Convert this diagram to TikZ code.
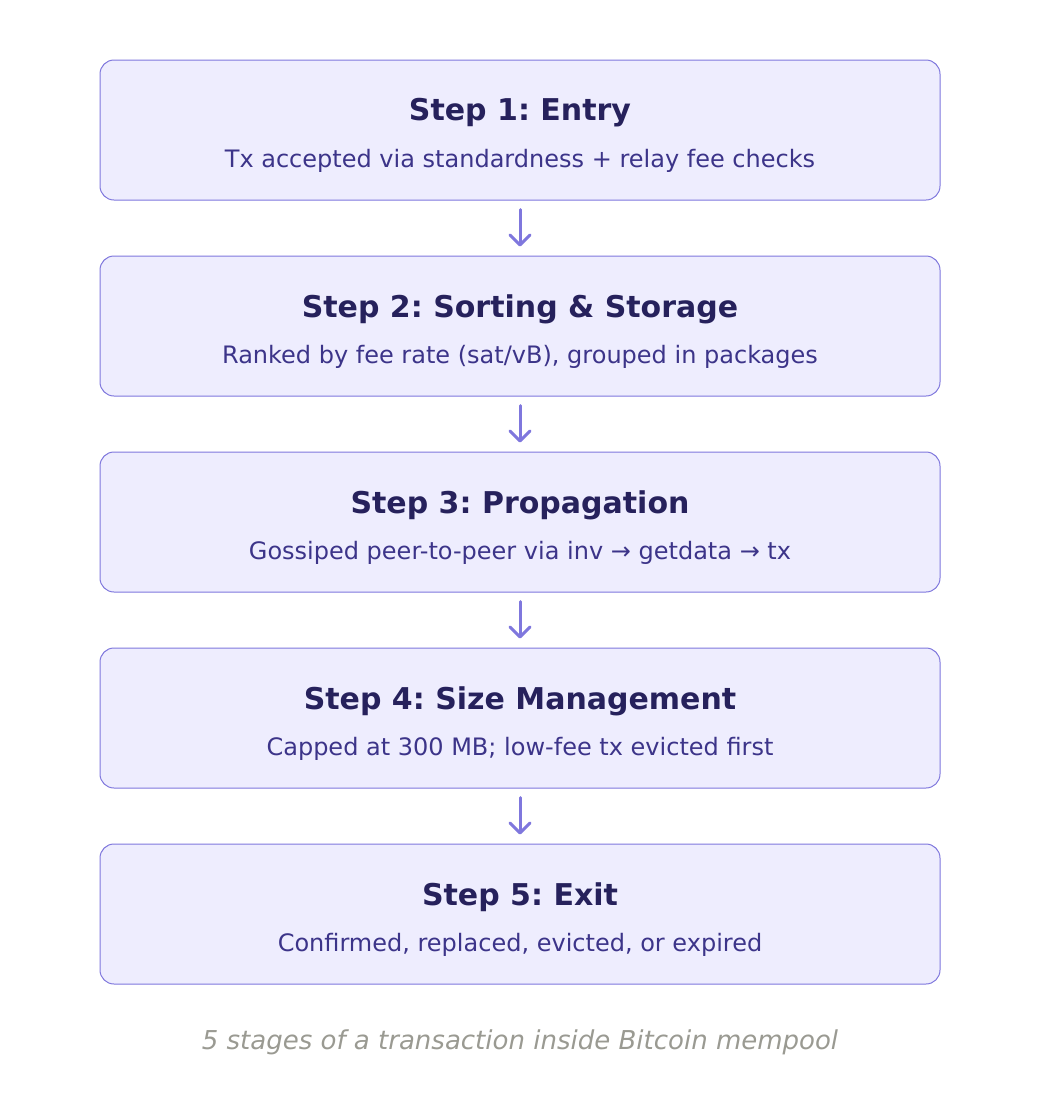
\documentclass[tikz,border=0pt]{standalone}
\usepackage{fontspec}
\setmainfont{DejaVu Sans}
\usetikzlibrary{arrows.meta}
\definecolor{boxfill}{HTML}{EEEDFE}
\definecolor{boxline}{HTML}{7F77DD}
\definecolor{titlecol}{HTML}{26215C}
\definecolor{subcol}{HTML}{3C3489}
\definecolor{capcol}{HTML}{9A9A92}
\tikzset{
  stepbox/.style={draw=boxline, fill=boxfill, line width=1pt, rounded corners=14pt, minimum width=840pt, minimum height=140pt, inner sep=0pt},
  titletext/.style={font=\fontsize{30}{34}\selectfont\bfseries, text=titlecol},
  subtext/.style={font=\fontsize{24}{28}\selectfont, text=subcol},
  flow/.style={draw=boxline, line width=3pt, line cap=round, -{Straight Barb[length=10pt,width=20pt,line width=3pt,round]}}
}
\begin{document}
\frenchspacing
\begin{tikzpicture}[x=1pt,y=-1pt]
\useasboundingbox (0,0) rectangle (1040,1112);
\foreach \i/\t/\s in {1/{Step 1: Entry}/{Tx accepted via standardness + relay fee checks},
  2/{Step 2: Sorting \& Storage}/{Ranked by fee rate (sat/vB), grouped in packages},
  3/{Step 3: Propagation}/{Gossiped peer-to-peer via inv → getdata → tx},
  4/{Step 4: Size Management}/{Capped at 300 MB; low-fee tx evicted first},
  5/{Step 5: Exit}/{Confirmed, replaced, evicted, or expired}}{
  \pgfmathsetmacro{\yc}{130+196*(\i-1)}
  \node[stepbox] (b\i) at (520,\yc) {};
  \node[titletext] (t\i) at (520,\yc-17) {\t};
  \node[subtext] (s\i) at (520,\yc+31) {\s};
}
\foreach \i/\j in {1/2,2/3,3/4,4/5}{
  \draw[flow] ([yshift=-9pt]b\i.south) -- ([yshift=9pt]b\j.north);
}
\node[font=\fontsize{26}{30}\selectfont\itshape, text=capcol] (cap) at (520,1042) {5 stages of a transaction inside Bitcoin mempool};
\end{tikzpicture}
\end{document}
